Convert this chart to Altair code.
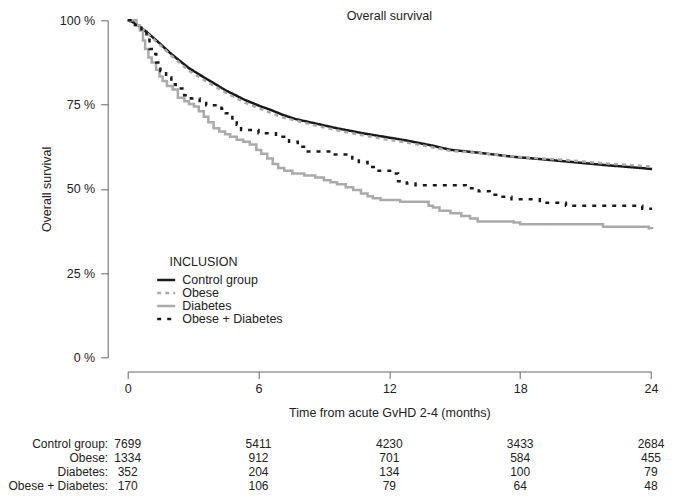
import altair as alt
import pandas as pd

# ---------------- data ----------------
groups = ["Control group", "Obese", "Diabetes", "Obese + Diabetes"]

control_t = [0, 0.3, 0.56, 1.0, 1.46, 2.0, 2.81, 3.57, 4.5, 5.37, 6.05, 6.57, 7.1, 7.7,
             8.68, 9.58, 10.79, 12.0, 12.75, 14.0, 14.78, 16.0, 17.7, 19.0, 20.0, 22.0, 23.0, 24.05]
control_s = [100, 99.3, 98.1, 95.8, 93.2, 90.0, 85.8, 82.8, 79.2, 76.4, 74.6, 73.4, 72.0, 70.7,
             69.3, 68.0, 66.5, 65.2, 64.4, 62.8, 61.6, 60.8, 59.5, 58.8, 58.2, 57.0, 56.5, 55.9]

obese_t = [0, 0.3, 0.56, 1.0, 1.46, 2.0, 2.81, 3.57, 4.5, 5.37, 6.05, 7.1, 8.68, 9.58,
           10.79, 12.0, 12.75, 14.0, 14.78, 16.0, 17.7, 19.0, 20.0, 22.0, 23.0, 24.05]
obese_s = [100, 99.3, 98.0, 95.5, 92.8, 89.5, 85.0, 82.0, 78.5, 75.6, 73.8, 71.2, 68.7, 67.4,
           65.9, 64.5, 63.8, 62.3, 61.3, 60.7, 59.6, 59.0, 58.6, 57.5, 57.1, 56.6]

diabetes_t = [0, 0.4, 0.56, 0.7, 0.8, 0.95, 1.1, 1.3, 1.46, 1.6, 1.8, 2.06, 2.3, 2.6, 2.81,
              3.04, 3.26, 3.49, 3.7, 3.94, 4.2, 4.47, 4.7, 5.0, 5.3, 5.6, 5.9, 6.12, 6.4,
              6.65, 6.9, 7.18, 7.55, 8.1, 8.6, 9.0, 9.3, 9.6, 10.0, 10.34, 10.7, 11.0, 11.24,
              11.6, 12.5, 13.8, 14.0, 14.3, 14.8, 15.3, 15.7, 16.05, 17.7, 18.0, 21.8, 23.9, 24.05]
diabetes_s = [100, 98.5, 97, 94, 91.5, 89, 87.5, 85.3, 83.3, 82, 80.5, 79.5, 77, 76, 75.2,
              74.4, 73, 71.4, 69.8, 68, 67, 66.2, 65.5, 64.6, 64, 63.2, 61.5, 60.4, 59,
              57.4, 56.2, 55.4, 54.6, 54.0, 53.4, 52.6, 52, 51.4, 50.5, 49.7, 48.6, 47.8, 47.2,
              46.7, 46.2, 45.0, 44.5, 43.5, 42.8, 42.0, 41.2, 40.3, 40.0, 39.5, 38.8, 38.3, 38.1]

obdiab_t = [0, 0.33, 0.63, 0.86, 1.0, 1.1, 1.31, 1.5, 1.76, 2.0, 2.2, 2.59, 2.9, 3.3, 3.6,
            4.3, 4.5, 4.8, 5.0, 5.2, 6.0, 6.8, 7.4, 7.8, 8.2, 9.5, 10.3, 10.6, 11.0, 11.4,
            12.1, 12.4, 12.8, 13.2, 15.5, 16.1, 16.6, 17.0, 17.6, 18.9, 20.1, 23.6, 24.05]
obdiab_s = [100, 98.6, 96.6, 94.2, 91.5, 90, 87.5, 85, 83, 81, 79.8, 77.8, 76.8, 75.5, 74.8,
            73.8, 72.4, 70.5, 69, 67.5, 66.5, 65.5, 64, 62.5, 61.1, 60.2, 59, 58, 56.5, 55.4,
            54.6, 52.3, 51.6, 51.1, 50.2, 49.3, 48.3, 47.7, 46.9, 45.9, 45.0, 44.1, 44.1]

risk_months = [0, 6, 12, 18, 24]
risk_control = [7699, 5411, 4230, 3433, 2684]
risk_obese = [1334, 912, 701, 584, 455]
risk_diabetes = [352, 204, 134, 100, 79]
risk_obdiab = [170, 106, 79, 64, 48]

# ---------------- layout ----------------
W, H = 523.3, 337.2
FONT = "Liberation Sans"
FS = 12.5
RFS = 12
row_y = [424.0, 438.0, 452.0, 466.0]
label_x = -19.5

colors = ["#1a1a1a", "#aaaaaa", "#aaaaaa", "#1a1a1a"]
dashes = [[1, 0], [4, 4], [1, 0], [4, 6]]


def frame(name, t, s):
    return pd.DataFrame({"group": name, "month": t, "surv": s})


smooth_df = pd.concat([frame(groups[0], control_t, control_s),
                       frame(groups[1], obese_t, obese_s)])
step_df = pd.concat([frame(groups[2], diabetes_t, diabetes_s),
                     frame(groups[3], obdiab_t, obdiab_s)])

x_enc = alt.X("month:Q",
              scale=alt.Scale(domain=[0, 24], nice=False, zero=False),
              axis=alt.Axis(values=[0, 6, 12, 18, 24], title="Time from acute GvHD 2-4 (months)",
                            offset=14, tickSize=7, labelPadding=4, titlePadding=11,
                            grid=False, labelFlush=False))
y_enc = alt.Y("surv:Q",
              scale=alt.Scale(domain=[0, 100], nice=False),
              axis=alt.Axis(values=[0, 25, 50, 75, 100], labelExpr="datum.value + ' %'",
                            title="Overall survival", offset=20, tickSize=7, labelPadding=6,
                            titlePadding=6, grid=False))

legend = alt.Legend(orient="none", legendX=28, legendY=253.4, title=None,
                    symbolType="stroke", symbolSize=324, symbolStrokeWidth=2.5,
                    labelFontSize=FS, labelFont=FONT, labelColor="#222", labelOffset=5.5,
                    clipHeight=12.4, rowPadding=0, padding=0)
color_enc = alt.Color("group:N", sort=groups,
                      scale=alt.Scale(domain=groups, range=colors), legend=legend)
dash_enc = alt.StrokeDash("group:N", sort=groups,
                          scale=alt.Scale(domain=groups, range=dashes), legend=legend)

smooth = alt.Chart(smooth_df).mark_line(strokeWidth=2.5, clip=False, strokeCap="butt").encode(
    x=x_enc, y=y_enc, color=color_enc, strokeDash=dash_enc,
    order=alt.Order("month:Q"))
step = alt.Chart(step_df).mark_line(strokeWidth=2.5, interpolate="step-after", clip=False,
                                    strokeCap="butt").encode(
    x=x_enc, y=y_enc, color=color_enc, strokeDash=dash_enc,
    order=alt.Order("month:Q"))

title = alt.Chart(pd.DataFrame({"t": ["Overall survival"]})).mark_text(
    align="center", baseline="alphabetic", font=FONT, fontSize=FS, color="#222").encode(
    x=alt.value(W / 2), y=alt.value(-0.3), text="t:N")

legend_title = alt.Chart(pd.DataFrame({"t": ["INCLUSION"]})).mark_text(
    align="left", baseline="middle", font=FONT, fontSize=FS, color="#222").encode(
    x=alt.value(41.8), y=alt.value(242.1), text="t:N")

risk_layers = []
for name, vals, yy in zip(groups, [risk_control, risk_obese, risk_diabetes, risk_obdiab], row_y):
    d = pd.DataFrame({"month": risk_months, "n": [str(v) for v in vals]})
    risk_layers.append(
        alt.Chart(d).mark_text(baseline="middle", align="center", font=FONT, fontSize=RFS,
                               color="#222").encode(x="month:Q", y=alt.value(yy), text="n:N"))
    lab = pd.DataFrame({"label": [name + ":"]})
    risk_layers.append(
        alt.Chart(lab).mark_text(baseline="middle", align="right", font=FONT, fontSize=RFS,
                                 color="#222").encode(x=alt.value(label_x), y=alt.value(yy),
                                                      text="label:N"))

chart = alt.layer(smooth, step, title, legend_title, *risk_layers).properties(
    width=W, height=H,
    autosize=alt.AutoSizeParams(type="none"),
    padding={"left": 119.7, "top": 12.3, "right": 14, "bottom": 136.5},
).configure_view(stroke=None).configure_axis(
    labelFont=FONT, titleFont=FONT, labelFontSize=FS, titleFontSize=FS,
    titleFontWeight="normal", labelColor="#222", titleColor="#222",
    domainColor="#666", tickColor="#666", domainWidth=1, tickWidth=1,
)

chart.save("out.html", embed_options={"renderer": "svg", "actions": False})
